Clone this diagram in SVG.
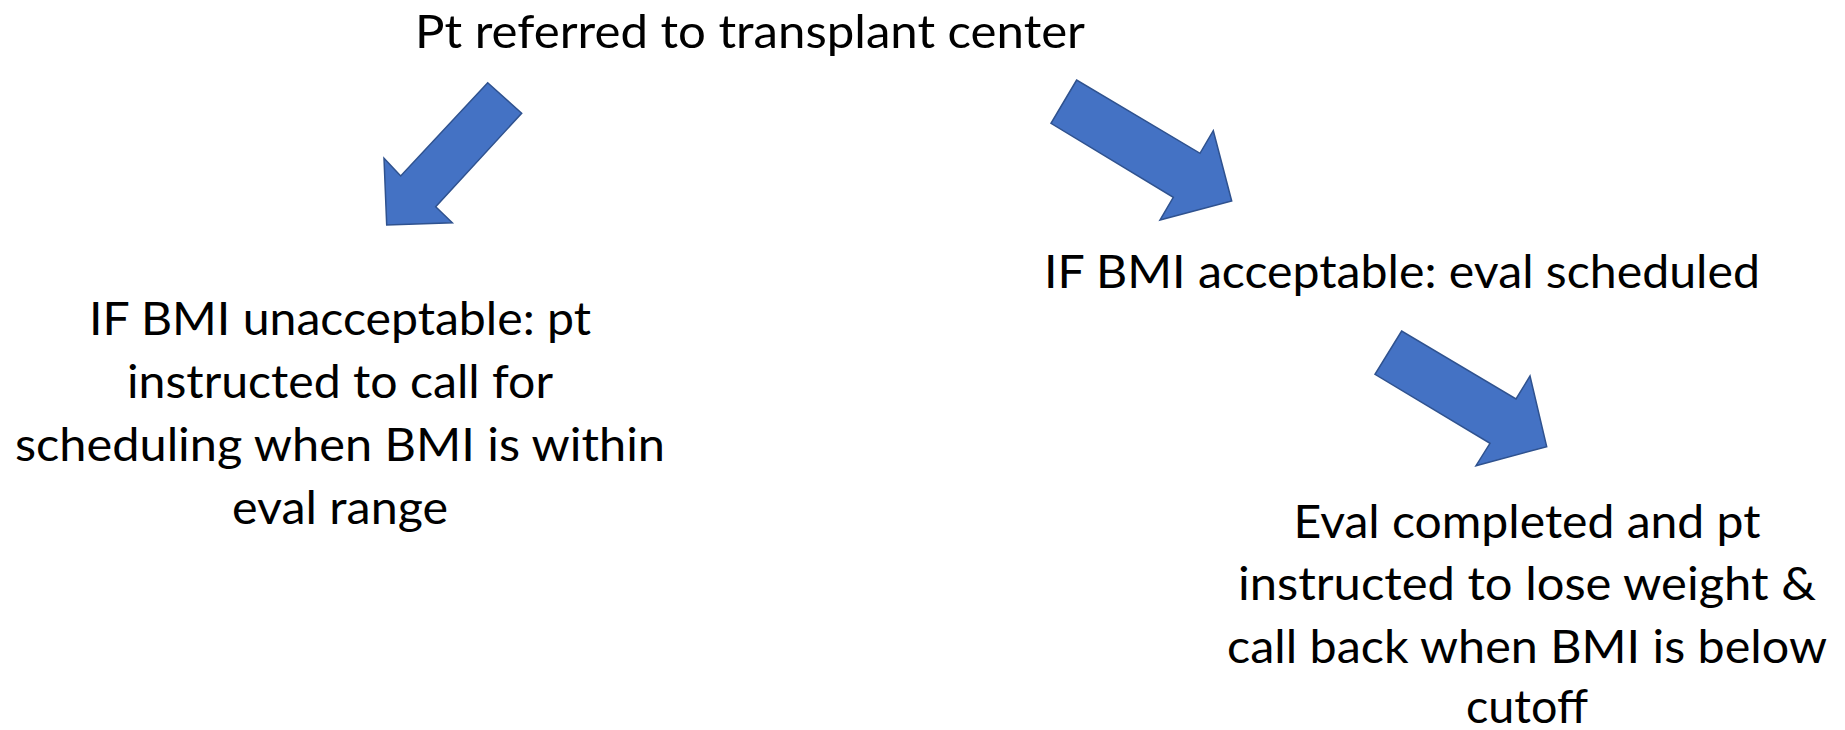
<svg xmlns="http://www.w3.org/2000/svg" width="1845" height="730" viewBox="0 0 1845 730">
<style>
.t{font-family:"Lato","Liberation Sans",sans-serif;font-size:47px;fill:#000;text-anchor:middle}
.arr{fill:#4472C4;stroke:#2F528F;stroke-width:1.5;stroke-linejoin:miter}
</style>
<rect width="1845" height="730" fill="#fff"/>
<g id="node-referred">
<text class="t" x="750" y="48" textLength="670" lengthAdjust="spacingAndGlyphs">Pt referred to transplant center</text>
</g>
<g id="node-unacceptable">
<text class="t" x="340" y="335" textLength="502" lengthAdjust="spacingAndGlyphs">IF BMI unacceptable: pt</text>
<text class="t" x="340" y="398" textLength="426" lengthAdjust="spacingAndGlyphs">instructed to call for</text>
<text class="t" x="340" y="461" textLength="650" lengthAdjust="spacingAndGlyphs">scheduling when BMI is within</text>
<text class="t" x="340" y="524" textLength="216" lengthAdjust="spacingAndGlyphs">eval range</text>
</g>
<g id="node-acceptable">
<text class="t" x="1402" y="288" textLength="716" lengthAdjust="spacingAndGlyphs">IF BMI acceptable: eval scheduled</text>
</g>
<g id="node-completed">
<text class="t" x="1527" y="538" textLength="467" lengthAdjust="spacingAndGlyphs">Eval completed and pt</text>
<text class="t" x="1527" y="600" textLength="578" lengthAdjust="spacingAndGlyphs">instructed to lose weight &amp;</text>
<text class="t" x="1527" y="663" textLength="600" lengthAdjust="spacingAndGlyphs">call back when BMI is below</text>
<text class="t" x="1527" y="723" textLength="122" lengthAdjust="spacingAndGlyphs">cutoff</text>
</g>
<g id="connectors">
<polygon class="arr" points="487.7,82.7 521.7,113.3 435.7,206.7 452.3,222.7 386.7,225 384,158.3 400.7,176"/>
<polygon class="arr" points="1076.7,80 1051,123.3 1173.3,197.3 1160,220 1231.7,201 1213.3,130.7 1200,153.3"/>
<polygon class="arr" points="1401.7,331 1375,374.3 1490,443.3 1476,465.7 1546.7,446.7 1530,376 1516,399"/>
</g>
</svg>
